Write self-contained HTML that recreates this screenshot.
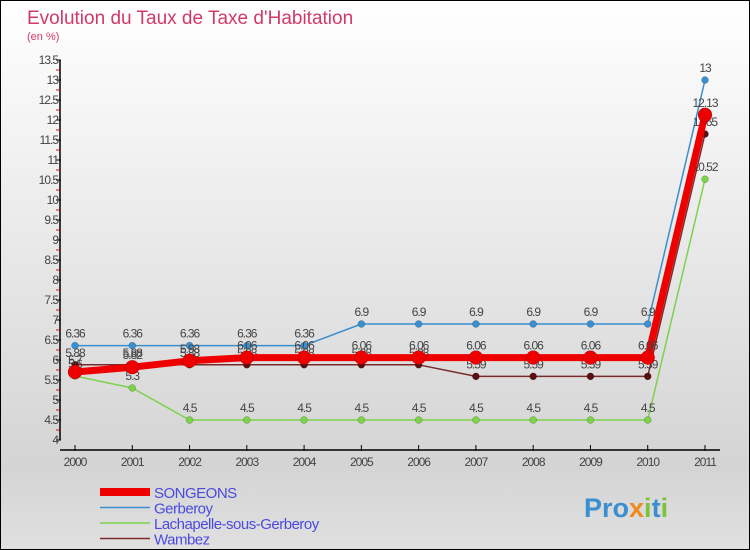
<!DOCTYPE html>
<html><head><meta charset="utf-8"><style>
body{margin:0;width:750px;height:550px;overflow:hidden;font-family:"Liberation Sans",sans-serif}
#wrap{position:absolute;left:0;top:0;width:748px;height:548px;border:1px solid #000;background:linear-gradient(#fff,#d4d4d4 85%,#e0e0e0)}
</style></head><body>
<div id="wrap">
<svg id="c" width="750" height="550" style="position:absolute;left:-1px;top:-1px">
<text x="27" y="24" font-size="19" fill="#d23a66">Evolution du Taux de Taxe d'Habitation</text>
<text x="27" y="40" font-size="11" fill="#d23a66">(en %)</text>
<g id="axes"></g><g id="series"></g><g id="legend"></g>
<text x="584" y="517" font-size="27" font-weight="bold" fill="#3a8fd0">Pro<tspan fill="#f08a1c">x</tspan><tspan fill="#7cc23c">i</tspan>t<tspan fill="#7cc23c">i</tspan></text>
</svg></div>
<script>
const years=["2000","2001","2002","2003","2004","2005","2006","2007","2008","2009","2010","2011"];
const yTicks=[4,4.5,5,5.5,6,6.5,7,7.5,8,8.5,9,9.5,10,10.5,11,11.5,12,12.5,13,13.5];
const songeons=[5.7,5.82,5.98,6.06,6.06,6.06,6.06,6.06,6.06,6.06,6.06,12.13];
const gerberoy=[6.36,6.36,6.36,6.36,6.36,6.9,6.9,6.9,6.9,6.9,6.9,13];
const lachapelle=[5.6,5.3,4.5,4.5,4.5,4.5,4.5,4.5,4.5,4.5,4.5,10.52];
const wambez=[5.88,5.88,5.88,5.88,5.88,5.88,5.88,5.59,5.59,5.59,5.59,11.65];
const seriesNames=["SONGEONS","Gerberoy","Lachapelle-sous-Gerberoy","Wambez"];
const NS="http://www.w3.org/2000/svg";
const X=i=>75+i*(630/11), Y=v=>440-(v-4)*40;
function mk(t,a,p){const e=document.createElementNS(NS,t);for(const k in a)e.setAttribute(k,a[k]);p.appendChild(e);return e;}
const ax=document.getElementById('axes');
let l=mk('line',{x1:60,y1:Y(13.5),x2:60,y2:Y(4),stroke:'#000','stroke-width':1.5},ax);


l=mk('line',{x1:60,y1:450,x2:720,y2:450,stroke:'#000','stroke-width':1.5},ax);


yTicks.forEach(v=>{
 mk('line',{x1:56,y1:Y(v),x2:61,y2:Y(v),stroke:'#000'},ax);
 if(v<13.5) mk('line',{x1:56,y1:Y(v+0.25),x2:59,y2:Y(v+0.25),stroke:'#e00'},ax);
 const t=mk('text',{x:58,y:Y(v)+4,'font-size':12,'text-anchor':'end',fill:'#444','letter-spacing':'-1'},ax);
 t.textContent=v;
 
 
});
years.forEach((y,i)=>{
 mk('line',{x1:X(i),y1:445,x2:X(i),y2:451,stroke:'#000'},ax);
 const t=mk('text',{x:X(i),y:466,'font-size':12,'text-anchor':'middle',fill:'#444','letter-spacing':'-1'},ax);
 t.textContent=y;
 
 
});
const sg=document.getElementById('series');
const defs=[[gerberoy,'#3a8fd0',1.5,3.5,'gerberoy'],[lachapelle,'#7cd24a',1.5,3.5,'lachapelle'],[wambez,'#7a2a2a',1.5,3.5,'wambez'],[songeons,'#ee0000',7,7,'songeons']];
defs.forEach(([d,c,w,r,n])=>{
 const g=mk('g',{},sg);
 
 
 const p=mk('polyline',{points:d.map((v,i)=>X(i)+','+Y(v)).join(' '),fill:'none',stroke:c,'stroke-width':w,'stroke-linejoin':'round'},g);
 
 
 d.forEach((v,i)=>{
  const pt=mk('circle',{cx:X(i),cy:Y(v),r:r,fill:n==='wambez'?'#5a1010':c,stroke:'rgba(0,0,0,0.3)','stroke-width':0.5},g);
  
  
  const t=mk('text',{x:X(i),y:Y(v)-8,'font-size':12,'text-anchor':'middle',fill:'#444','letter-spacing':'-1'},g);
  t.textContent=v;
  
  
 });
});
const lg=document.getElementById('legend');
const lc=[['#ee0000',8],['#3a8fd0',1.5],['#7cd24a',1.5],['#7a2a2a',1.5]];
seriesNames.forEach((s,i)=>{
 const y=492+i*15.5;
 const g=mk('g',{},lg);
 
 
 mk('line',{x1:100,y1:y,x2:150,y2:y,stroke:lc[i][0],'stroke-width':lc[i][1]},g);
 const t=mk('text',{x:154,y:y+6,'font-size':15,fill:'#4a4ae0','letter-spacing':'-0.5'},g);
 t.textContent=s;
});
</script></body></html>
